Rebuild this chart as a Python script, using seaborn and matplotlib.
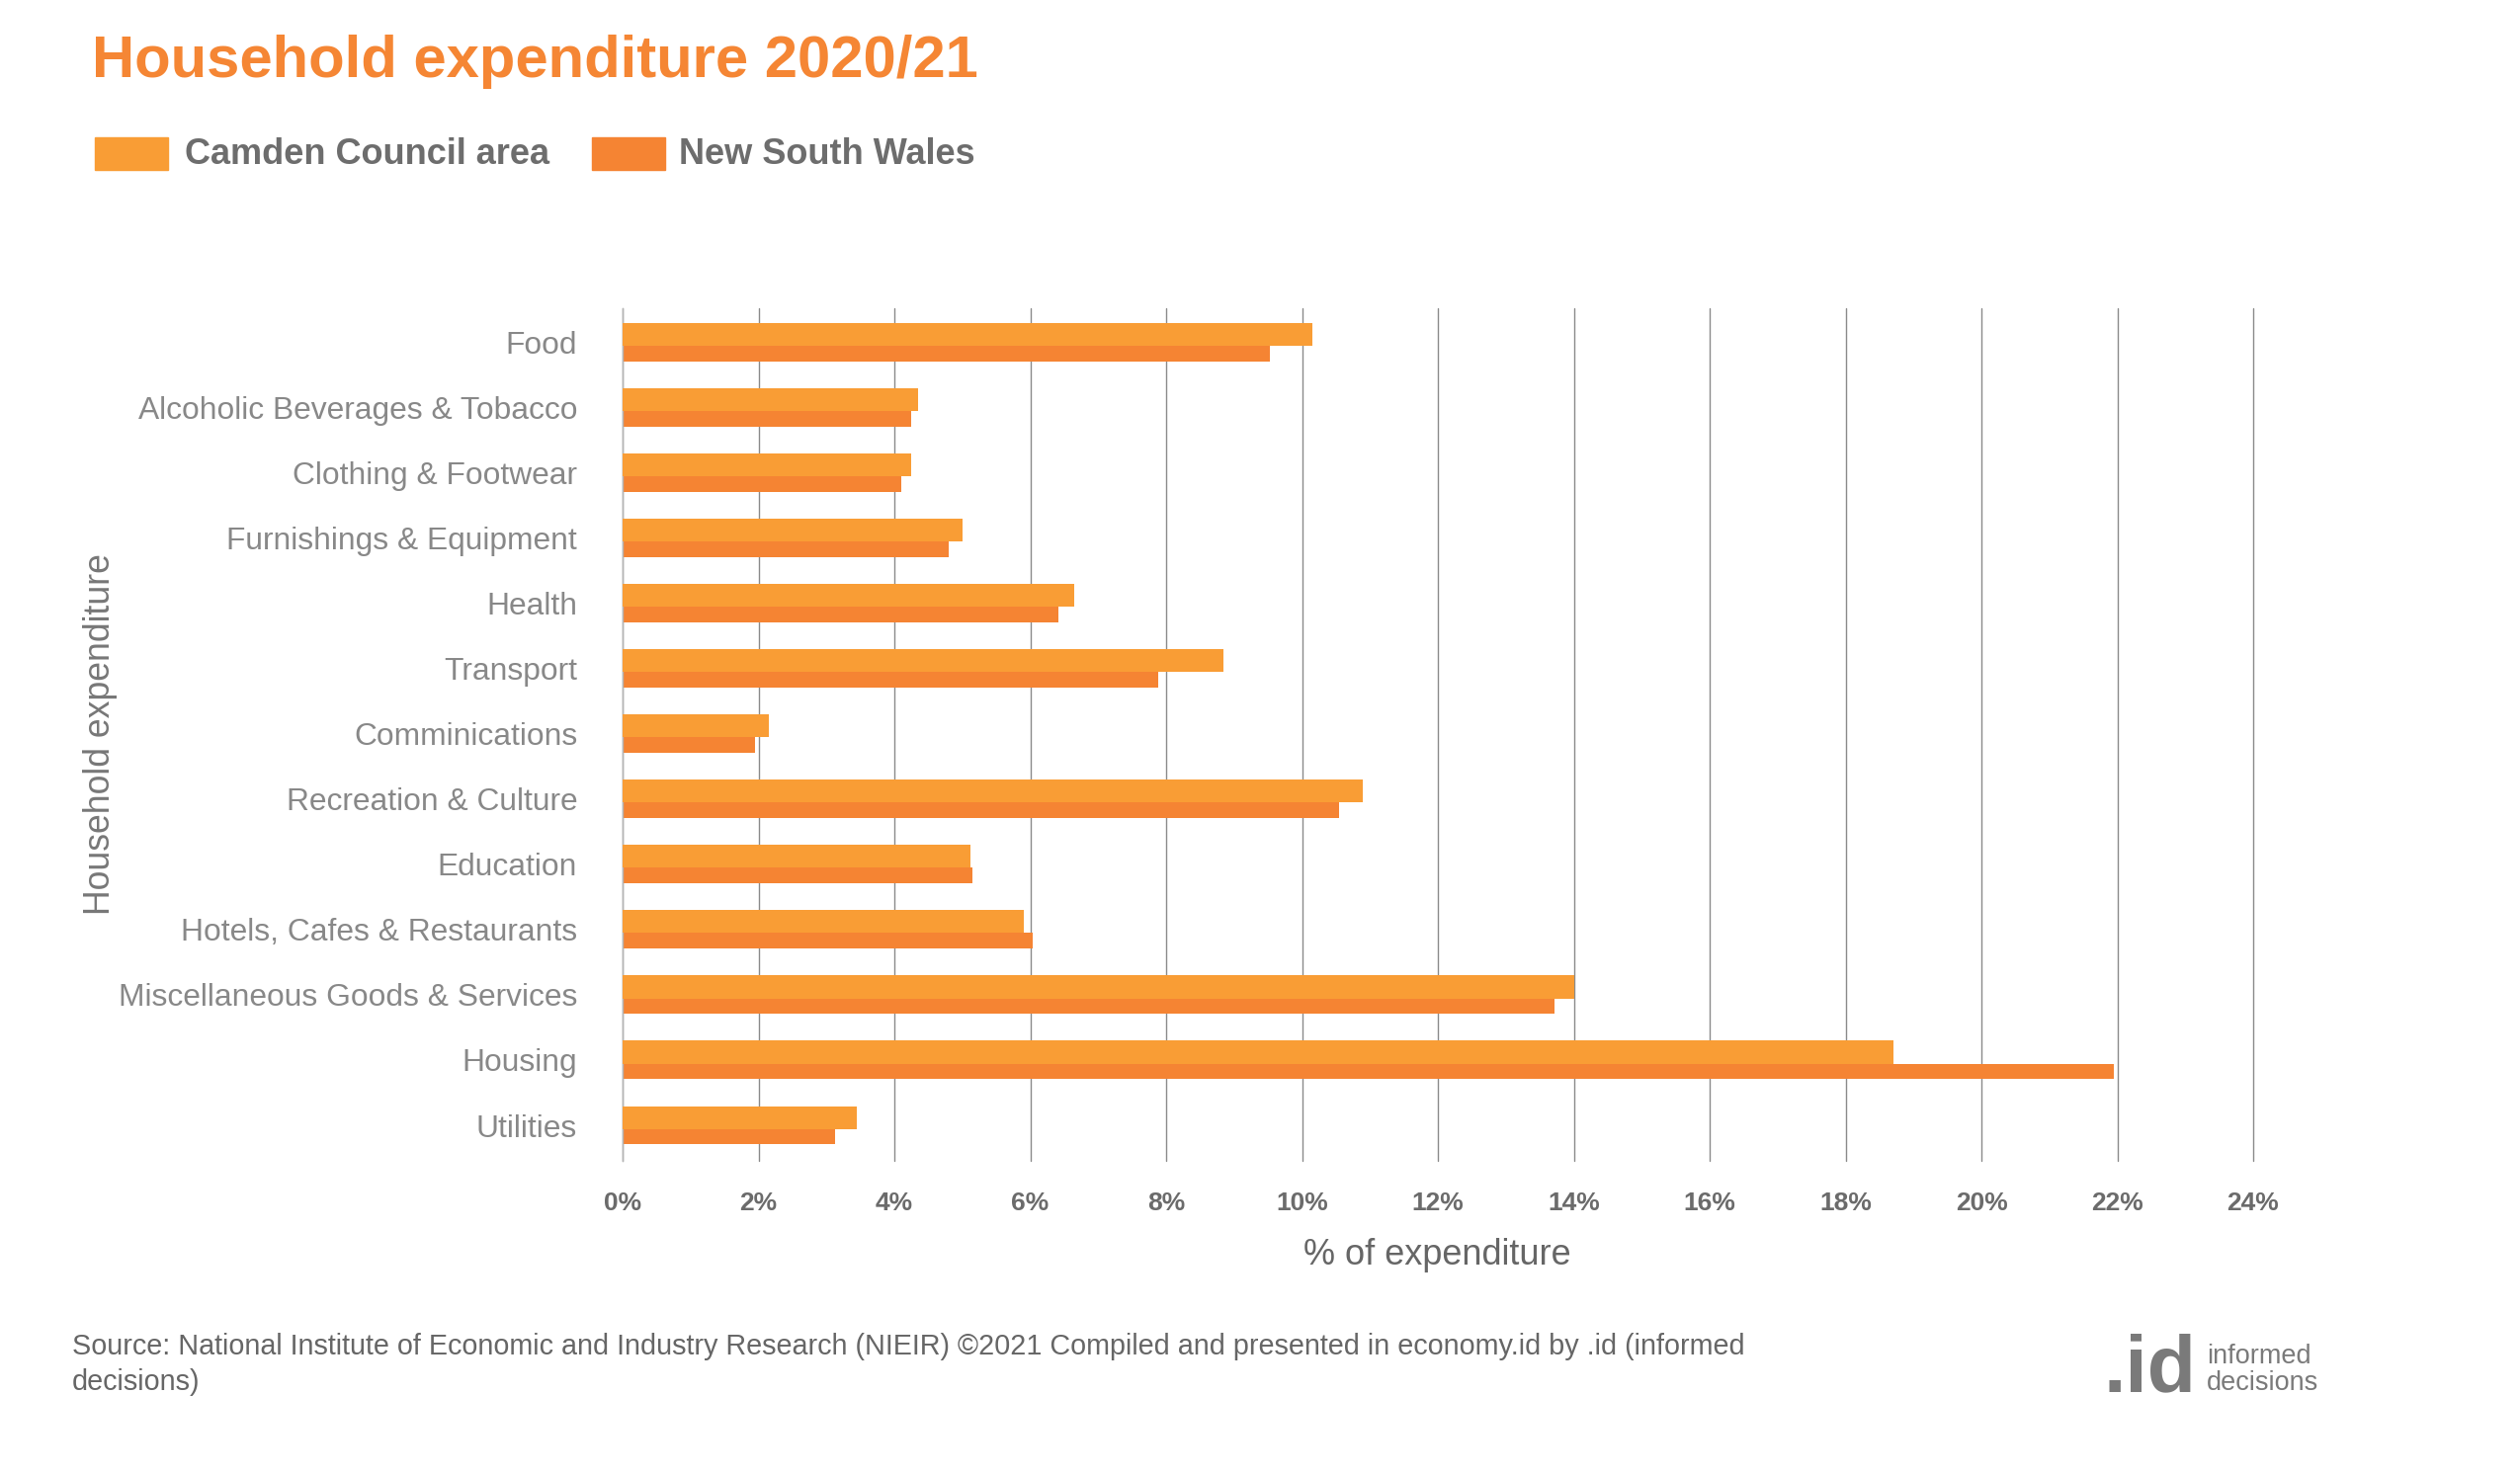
import matplotlib
matplotlib.use('Agg')
import matplotlib.pyplot as plt
import seaborn as sns
import pandas as pd
from matplotlib.patches import Rectangle

categories = ['Food', 'Alcoholic Beverages & Tobacco', 'Clothing & Footwear',
              'Furnishings & Equipment', 'Health', 'Transport', 'Comminications',
              'Recreation & Culture', 'Education', 'Hotels, Cafes & Restaurants',
              'Miscellaneous Goods & Services', 'Housing', 'Utilities']
camden = [10.15, 4.35, 4.25, 5.0, 6.65, 8.85, 2.15, 10.9, 5.12, 5.9, 14.0, 18.7, 3.45]
nsw = [9.52, 4.25, 4.1, 4.8, 6.42, 7.88, 1.95, 10.55, 5.15, 6.03, 13.72, 21.95, 3.12]
series = ['Camden Council area', 'New South Wales']
xticks = list(range(0, 25, 2))

CAMDEN_COL = '#F99D35'
NSW_COL = '#F58433'
DARK = '#666666'
LOGO = '#7a7a7a'

df = pd.DataFrame({
    'category': categories * 2,
    'value': camden + nsw,
    'series': [series[0]] * len(categories) + [series[1]] * len(categories),
})

sns.set_style('white')
plt.rcParams['font.family'] = ['Liberation Sans', 'DejaVu Sans']

W, H = 2550, 1494
fig = plt.figure(figsize=(W / 100, H / 100), dpi=100)
ax = fig.add_axes([630 / W, 1 - 1175 / H, 1650 / W, (1175 - 312) / H])

sns.barplot(data=df, y='category', x='value', hue='series', order=categories,
            hue_order=series, palette=[CAMDEN_COL, NSW_COL], orient='h',
            width=0.59, dodge=True, saturation=1, legend=False, linewidth=0, ax=ax)

# camden bar is a bit thicker than the nsw bar in the original
n = len(categories)
for i, p in enumerate(ax.patches[:2 * n]):
    p.set_linewidth(0)
    y0 = p.get_y()
    if i < n:
        p.set_height(0.35)
        p.set_zorder(3)
    else:
        top = y0 - 0.295 + 0.35
        p.set_y(top)
        p.set_height(y0 + 0.295 - top)
        p.set_zorder(2)

ax.set_xlim(0, 24)
ax.set_ylim(12.545, -0.52)
ax.set_xticks(xticks)
ax.set_xticklabels([f'{t}%' for t in xticks], fontsize=19, fontweight='bold',
                   color='#6b6b6b')
ax.tick_params(axis='x', length=0, pad=22)
ax.tick_params(axis='y', length=0, pad=33, labelsize=22.9, labelcolor='#888888')
ax.xaxis.grid(True, color='#8a8a8a', linewidth=1.0)
for gl in ax.get_xgridlines():
    gl.set_clip_on(False)
ax.set_axisbelow(True)
for s in ['top', 'right', 'bottom']:
    ax.spines[s].set_visible(False)
ax.spines['left'].set_color('#b5b5b5')
ax.spines['left'].set_linewidth(1.0)

ax.set_xlabel('')
ax.set_ylabel('')
fig.text(1454 / W, 1 - 1270 / H, '% of expenditure', fontsize=26, color=DARK,
         ha='center', va='center')
fig.text(102 / W, 1 - 743 / H, 'Household expenditure', rotation=90, fontsize=25.7,
         color='#777777', ha='center', va='center')

# title and legend
fig.text(93 / W, 1 - 78 / H, 'Household expenditure 2020/21', fontsize=43,
         fontweight='bold', color='#F58634', ha='left', va='baseline')
leg_bot = 1 - 172 / H
fig.patches.append(Rectangle((96 / W, leg_bot), 74 / W, 33 / H,
                             transform=fig.transFigure, color=CAMDEN_COL))
fig.text(187 / W, leg_bot + 16 / H, series[0], fontsize=26, fontweight='bold',
         color='#6d6d6d', va='center')
fig.patches.append(Rectangle((599 / W, leg_bot), 74 / W, 33 / H,
                             transform=fig.transFigure, color=NSW_COL))
fig.text(687 / W, leg_bot + 16 / H, series[1], fontsize=26, fontweight='bold',
         color='#6d6d6d', va='center')

# footer
fig.text(73 / W, 1 - 1363 / H,
         'Source: National Institute of Economic and Industry Research (NIEIR) \u00a92021 '
         'Compiled and presented in economy.id by .id (informed',
         fontsize=20.7, color=DARK, va='center')
fig.text(73 / W, 1 - 1399 / H, 'decisions)', fontsize=20.7, color=DARK, va='center')

# logo
fig.text(2222 / W, 1 - 1408 / H, '.id', fontsize=58, fontweight='bold',
         color=LOGO, va='baseline', ha='right')
fig.text(2233 / W, 1 - 1380 / H, 'informed', fontsize=19.5, color=LOGO,
         va='baseline')
fig.text(2233 / W, 1 - 1407 / H, 'decisions', fontsize=19.5, color=LOGO,
         va='baseline')

fig.savefig('out.png', dpi=100)
plt.close(fig)
